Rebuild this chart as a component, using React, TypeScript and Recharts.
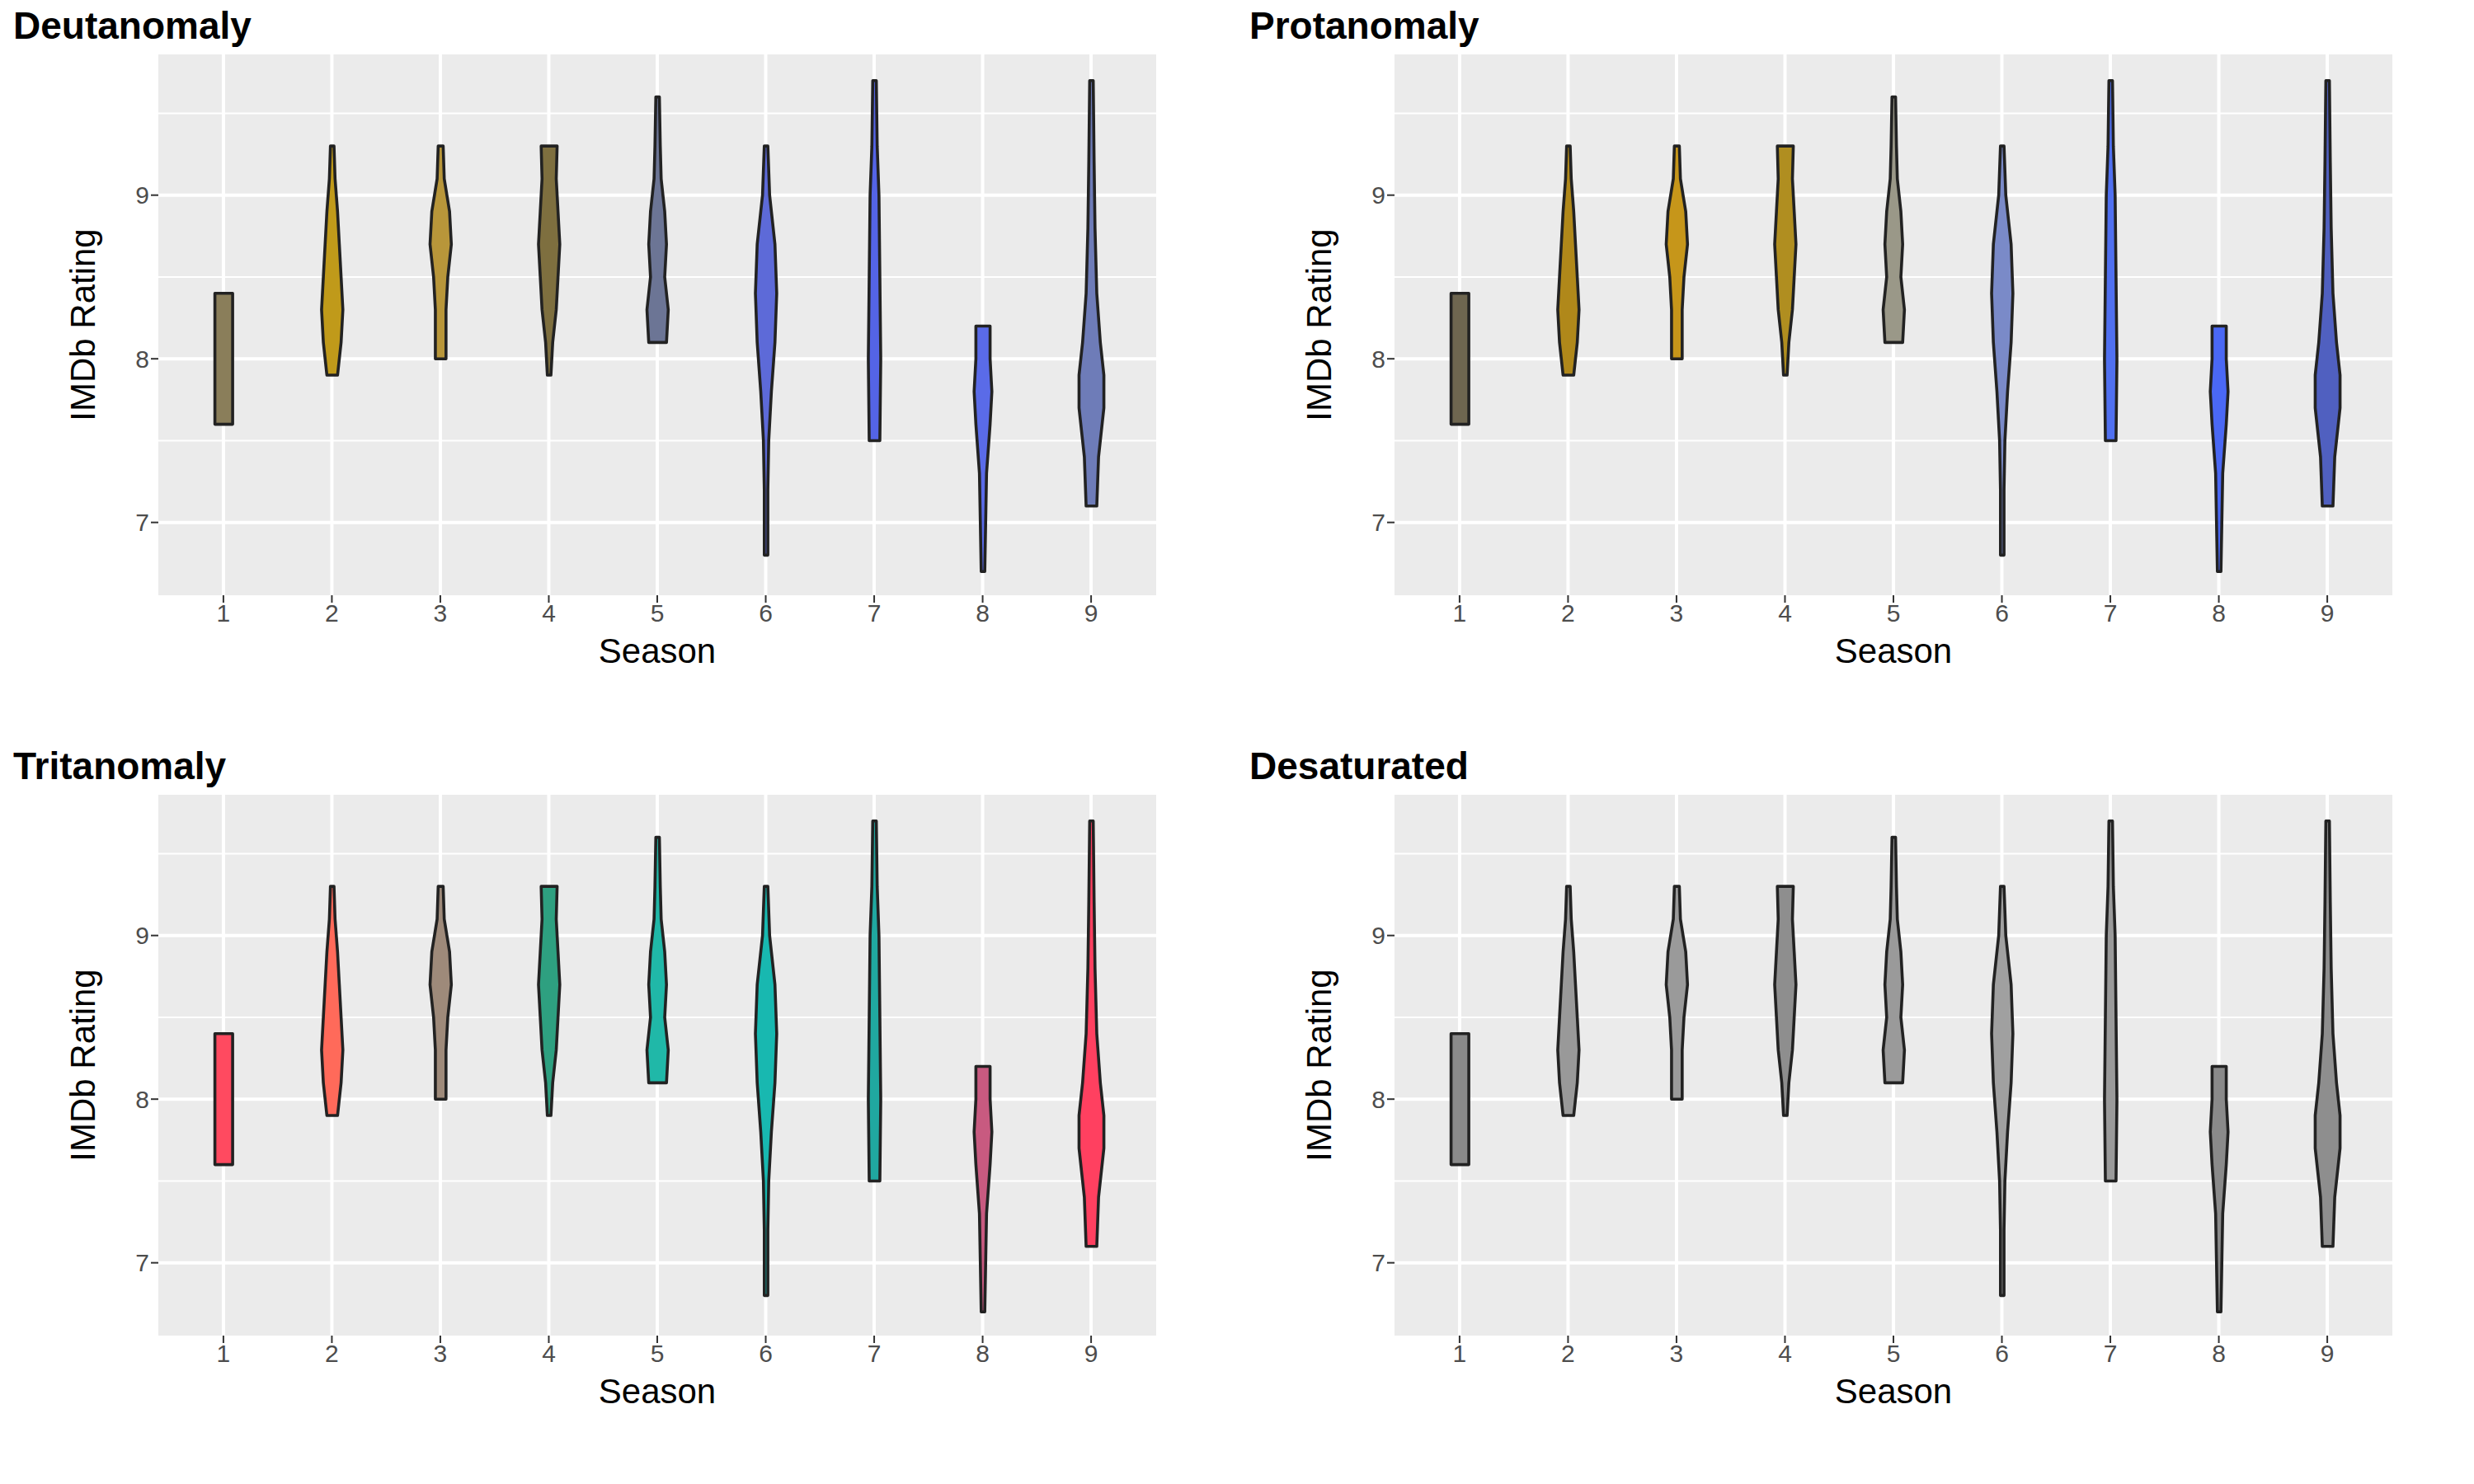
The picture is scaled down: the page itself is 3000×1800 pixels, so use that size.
import React from "react";
import { ComposedChart, Bar, XAxis, YAxis, CartesianGrid } from "recharts";

const seasons = [1, 2, 3, 4, 5, 6, 7, 8, 9];
const minRating = [7.6, 7.9, 8.0, 7.9, 8.1, 6.8, 7.5, 6.7, 7.1];
const maxRating = [8.4, 9.3, 9.3, 9.3, 9.6, 9.3, 9.7, 8.2, 9.7];
// density profiles: [rating, half-width relative to season spacing]
const profiles: number[][][] = [
  [[7.6, 5], [8.0, 5], [8.4, 5]],
  [[7.9, 3], [8.1, 5], [8.3, 6], [8.5, 5], [8.7, 4], [8.9, 3], [9.1, 1.6], [9.3, 1]],
  [[8.0, 3], [8.3, 3], [8.5, 4], [8.7, 6], [8.9, 5], [9.1, 2], [9.3, 1.4]],
  [[7.9, 1], [8.1, 2], [8.3, 4], [8.5, 5], [8.7, 6], [8.9, 5], [9.1, 4], [9.3, 4.5]],
  [[8.1, 5], [8.3, 6], [8.5, 4], [8.7, 5], [8.9, 4], [9.1, 2], [9.3, 1.5], [9.6, 1]],
  [[6.8, 1], [7.2, 1], [7.5, 1.5], [7.8, 3], [8.1, 5], [8.4, 6], [8.7, 5], [9.0, 2], [9.3, 1]],
  [[7.5, 3], [8.0, 3.5], [8.5, 3], [9.0, 2.5], [9.3, 1.5], [9.7, 1]],
  [[6.7, 1], [7.0, 1.5], [7.3, 2], [7.6, 4], [7.8, 5], [8.0, 4], [8.2, 4]],
  [[7.1, 3], [7.4, 4], [7.7, 7], [7.9, 7], [8.1, 5], [8.4, 3], [8.8, 2], [9.2, 1.5], [9.7, 1]],
];
const panelTitles = ["Deutanomaly", "Protanomaly", "Tritanomaly", "Desaturated"];
const deutColors = ["#8a7e5a", "#c09a1a", "#b8963a", "#7e6f3f", "#6c7595", "#5d6ad8", "#5464e6", "#5a6be8", "#6e7cb8"];
const protColors = ["#6e6650", "#b0881a", "#c6961a", "#b08e20", "#9a9888", "#7a8ac8", "#5070f0", "#4a68f4", "#5060c0"];
const tritColors = ["#ff4a60", "#ff6a5a", "#9e8a7a", "#2ea080", "#20b8a8", "#18b8b0", "#20a8a0", "#c85a80", "#ff4060"];
const desatColors = ["#8a8a8a", "#999999", "#9a9a9a", "#8e8e8e", "#9a9a9a", "#a0a0a0", "#9a9a9a", "#8a8a8a", "#8e8e8e"];
const panelColors = [deutColors, protColors, tritColors, desatColors];

const data = seasons.map((s, i) => ({ season: s, range: [minRating[i], maxRating[i]], idx: i }));

const SPACING = 55;

const Violin = (props: any) => {
  const { x, y, width, height, payload, colors } = props;
  const i = payload.idx;
  const lo = minRating[i], hi = maxRating[i];
  const cx = x + width / 2;
  const toY = (r: number) => y + ((hi - r) / (hi - lo)) * height;
  const prof = profiles[i];
  const right = prof.map(([r, w]) => `${cx + (w / SPACING) * width},${toY(r)}`);
  const left = [...prof].reverse().map(([r, w]) => `${cx - (w / SPACING) * width},${toY(r)}`);
  return <polygon points={[...right, ...left].join(" ")} fill={colors[i]} stroke="#222" strokeWidth={3.6} strokeLinejoin="round" />;
};

const font = "'Liberation Sans', Arial, sans-serif";

function Panel({ p }: { p: number }) {
  const left = p % 2 === 0 ? 0 : 1499;
  const top = p < 2 ? 0 : 898;
  const colors = panelColors[p];
  return (
    <div style={{ position: "absolute", left, top, width: 1500, height: 900 }}>
      <div style={{ position: "absolute", left: 16, top: 4, fontFamily: font, fontWeight: "bold", fontSize: 46, color: "#000" }}>{panelTitles[p]}</div>
      <ComposedChart width={1500} height={822} data={data} margin={{ top: 66, left: 92, right: 98, bottom: 0 }}>
        <CartesianGrid fill="#ebebeb" stroke="#fff" strokeWidth={2} vertical={false} horizontalValues={[7.5, 8.5, 9.5]} />
        <CartesianGrid stroke="#fff" strokeWidth={4} horizontalValues={[7, 8, 9]} verticalValues={seasons} />
        <XAxis dataKey="season" type="number" domain={[0.4, 9.6]} ticks={seasons} allowDataOverflow axisLine={false}
          tickLine={{ stroke: "#333", strokeWidth: 2 }} tickSize={9} height={100}
          tick={{ fill: "#4d4d4d", fontSize: 30, fontFamily: font }}
          label={{ value: "Season", position: "insideBottom", offset: 18, fill: "#000", fontSize: 42, fontFamily: font }} />
        <YAxis type="number" domain={[6.555, 9.86]} ticks={[7, 8, 9]} allowDataOverflow axisLine={false}
          tickLine={{ stroke: "#333", strokeWidth: 2 }} tickSize={9} width={100}
          tick={{ fill: "#4d4d4d", fontSize: 30, fontFamily: font }}
          label={{ value: "IMDb Rating", angle: -90, position: "insideLeft", offset: 8, fill: "#000", fontSize: 42, fontFamily: font, style: { textAnchor: "middle" } }} />
        <Bar dataKey="range" barSize={134} isAnimationActive={false} shape={(pr: any) => <Violin {...pr} colors={colors} />} />
      </ComposedChart>
    </div>
  );
}

export default function App() {
  return (
    <div style={{ position: "relative", width: 3000, height: 1800, background: "#fff", marginLeft: -8, marginTop: -8 }}>
      {[0, 1, 2, 3].map((p) => <Panel key={p} p={p} />)}
    </div>
  );
}
